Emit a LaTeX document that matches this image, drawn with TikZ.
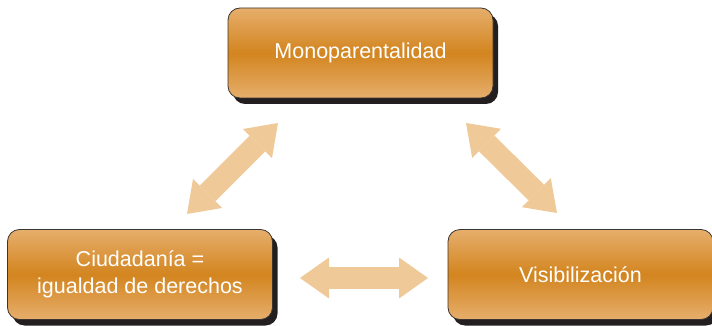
\documentclass[tikz,border=0pt]{standalone}
\usepackage{fontspec}
\setmainfont{Liberation Sans}
\usepackage{tikz}
\usetikzlibrary{arrows.meta, shadows}

\definecolor{boxlight}{HTML}{E6AE6C}
\definecolor{boxdark}{HTML}{D3851F}
\definecolor{boxedge}{HTML}{3A3530}
\definecolor{shadowcol}{HTML}{231F20}
\definecolor{arrowcol}{HTML}{EFC998}

\tikzset{
	themebox/.style={rounded corners=12pt, draw=boxedge, line width=0.8pt,
		top color=boxlight, bottom color=boxlight, middle color=boxdark,
		minimum width=265pt, minimum height=90pt, align=center,
		text=white, font=\fontsize{21.5}{27}\selectfont,
		drop shadow={shadow xshift=5pt, shadow yshift=-6pt, fill=shadowcol, opacity=1}},
	bigarrow/.style={draw=arrowcol, line width=22pt,
		{Triangle[width=41pt, length=29pt, line width=0pt]}-{Triangle[width=41pt, length=29pt, line width=0pt]}}
}

\begin{document}
\begin{tikzpicture}[x=1pt, y=-1pt]
			\useasboundingbox (0,0) rectangle (712,326);

			% the three boxes
			\node [themebox] (mono) at (360.5,53) {Monoparentalidad};
			\node [themebox] (ciud) at (140,274.5) {Ciudadanía =\\igualdad de derechos};
			\node [themebox] (visi) at (580.5,274.5) {Visibilización};

			% arrow ends
			\coordinate (l1) at (187,214);
			\coordinate (l2) at (278,123);
			\coordinate (r1) at (466,123);
			\coordinate (r2) at (557,213);
			\coordinate (h1) at (300,278);
			\coordinate (h2) at (428,278);

			\begin{scope}[bigarrow]
				\draw (l1) -- (l2);
				\draw (r1) -- (r2);
				\draw (h1) -- (h2);
			\end{scope}
		\end{tikzpicture}
\end{document}
